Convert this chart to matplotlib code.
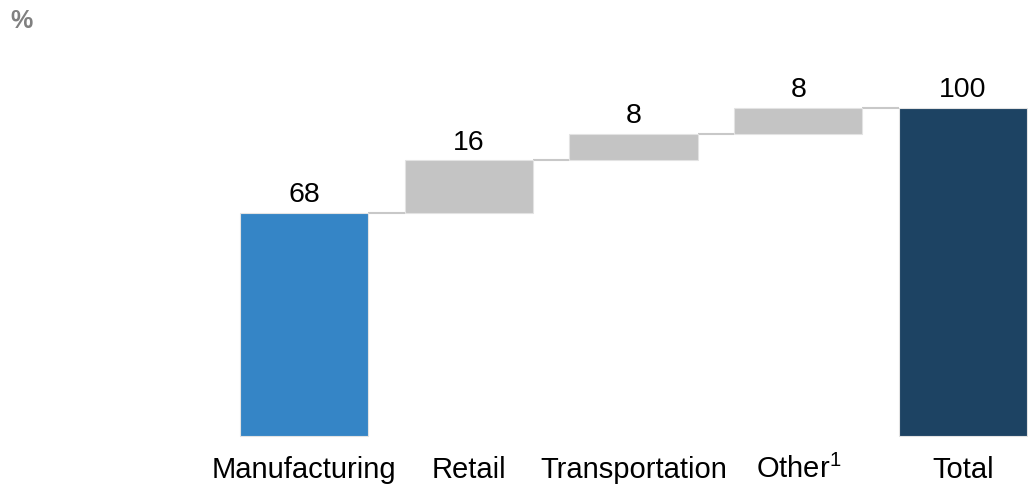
import matplotlib
matplotlib.use("Agg")
import matplotlib.pyplot as plt
import numpy as np

plt.rcParams['font.family'] = ['Liberation Sans', 'DejaVu Sans']
plt.rcParams['mathtext.fontset'] = 'custom'
plt.rcParams['mathtext.rm'] = 'Liberation Sans'
plt.rcParams['mathtext.it'] = 'Liberation Sans'
plt.rcParams['mathtext.bf'] = 'Liberation Sans:bold'

categories = ["Manufacturing", "Retail", "Transportation", r"Other$\mathrm{^{1}}$", "Total"]
values = [68, 16, 8, 8, 100]
value_labels = ["68", "16", "8", "8", "100"]
colors = ["#3585C6", "#C4C4C4", "#C4C4C4", "#C4C4C4", "#1D4363"]

W, H, DPI = 1028, 491, 100
fig = plt.figure(figsize=(W / DPI, H / DPI), dpi=DPI)
ax = fig.add_axes([0, 0, 1, 1])

step_px = 164.75
x0_px = 304
base_px = 55
unit_px = 3.28
ax.set_xlim(-x0_px / step_px, (W - x0_px) / step_px)
ax.set_ylim(-base_px / unit_px, (H - base_px) / unit_px)
ax.axis('off')

x = np.arange(len(categories))
width = 0.777
bottoms = []
running = 0
for i, v in enumerate(values):
    if i == len(values) - 1:
        bottoms.append(0)
    elif i == 0:
        bottoms.append(0)
        running = v
    else:
        bottoms.append(running)
        running += v
bottoms = np.array(bottoms)
tops = bottoms + np.array(values)

ax.bar(x, values, width=width, bottom=bottoms, color=colors,
       edgecolor="#E3E3E3", linewidth=0.8, zorder=2)

# connectors
for i in range(len(values) - 1):
    level = tops[i]
    ax.plot([x[i] + width / 2, x[i + 1] - width / 2], [level, level],
            color="#C8C8C8", linewidth=1.5, zorder=1, solid_capstyle='butt')

for xi, t, lab in zip(x, tops, value_labels):
    ax.annotate(lab, (xi, t), xytext=(0, 7.9), textcoords='offset points',
                ha='center', va='baseline', fontsize=20.5, color='black')

label_y = (13 - base_px) / unit_px
for xi, c in zip(x, categories):
    ax.text(xi, label_y, c, ha='center', va='baseline', fontsize=21, color='black')

fig.text(10 / W, 1 - 28 / H, "%", fontsize=18, fontweight='bold', color='#808080',
         ha='left', va='baseline')

fig.savefig("out.png", dpi=DPI)
